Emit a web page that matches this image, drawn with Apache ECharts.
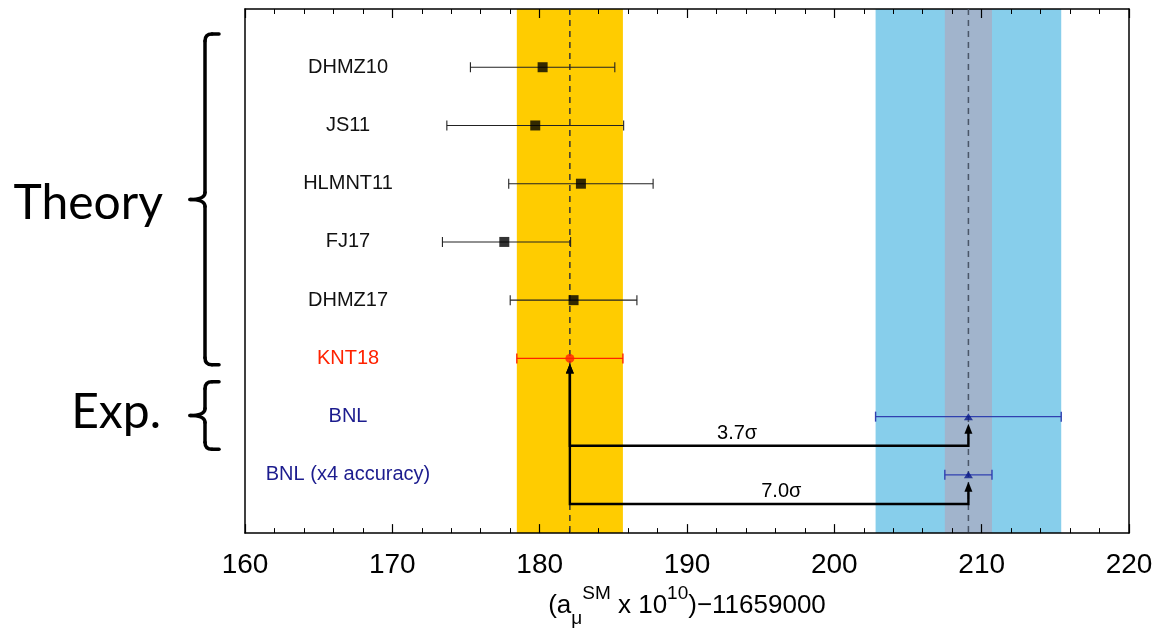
<!DOCTYPE html>
<html>
<head>
<meta charset="utf-8">
<script src="https://cdn.jsdelivr.net/npm/echarts@6/dist/echarts.min.js"></script>
<style>
html,body{margin:0;padding:0;background:#fff;}
#chart{width:1160px;height:633px;}
</style>
</head>
<body>
<div id="chart"></div>
<script>
// ---------------- data ----------------
const categories = ['DHMZ10', 'JS11', 'HLMNT11', 'FJ17', 'DHMZ17', 'KNT18', 'BNL', 'BNL (x4 accuracy)'];
const centralValues = [180.2, 179.7, 182.8, 177.6, 182.3, 182.05, 209.1, 209.1];
const errLow  = [4.9, 6.0, 4.9, 4.2, 4.3, 3.6, 6.3, 1.6];
const errHigh = [4.9, 6.0, 4.9, 4.5, 4.3, 3.6, 6.3, 1.6];
const xTicks = [160, 170, 180, 190, 200, 210, 220];
// bands: [row index whose value ± error defines the band]
const bandRows = [5, 6, 7];
// comparisons: theory row -> experiment row, with significance label
const compareFrom = [5, 5];
const compareTo = [6, 7];
const sigmaLabels = ['3.7σ', '7.0σ'];
const sigmaLabelX = [193.4, 196.4];
const groupLabels = ['Theory', 'Exp.'];

// ---------------- styles ----------------
const RED = '#ff2200';
const NAVY = '#1c1c8e';
const NAVY_BAR = '#3040b0';
function rowColor(i) { return i === 5 ? RED : (i >= 6 ? NAVY_BAR : '#222'); }
function labelColor(i) { return i === 5 ? RED : (i >= 6 ? NAVY : '#111'); }
const bandColors = ['#ffcc00', '#87ceeb', '#a1b4cc'];
const dashColors = ['#333333', '#4a5668', '#4a5668'];

const FONT = '"Liberation Sans", Arial, Helvetica, sans-serif';

// rows are 1-based positions on the y axis
const rowOf = i => i + 1;

const errData = categories.map((c, i) => [centralValues[i] - errLow[i], centralValues[i] + errHigh[i], rowOf(i), i]);
const bandData = bandRows.map((r, k) => [centralValues[r] - errLow[r], centralValues[r] + errHigh[r], k]);
const dashData = [[centralValues[5], 0], [centralValues[6], 1]];
const arrowData = compareFrom.map((f, k) => [centralValues[f], rowOf(f), centralValues[compareTo[k]], rowOf(compareTo[k]), rowOf(compareTo[k]) + 0.5, sigmaLabelX[k], k]);

const squareData = [0, 1, 2, 3, 4].map(i => [centralValues[i], rowOf(i)]);
const circleData = [[centralValues[5], rowOf(5)]];
const triData = [6, 7].map(i => [centralValues[i], rowOf(i)]);

const chart = echarts.init(document.getElementById('chart'), null, {renderer: 'canvas'});

function arrowHead(x, tipY, color) {
  return {type: 'polygon', shape: {points: [[x, tipY], [x - 4, tipY + 10], [x + 4, tipY + 10]]}, style: {fill: color}};
}

const xAxisCommon = {
  type: 'value', min: 160, max: 220, interval: 10,
  axisLine: {show: true, onZero: false, lineStyle: {color: '#000', width: 1.5}},
  axisTick: {show: true, inside: true, length: 9, lineStyle: {color: '#000', width: 1.2}},
  minorTick: {show: true, splitNumber: 5, length: 5, lineStyle: {color: '#000', width: 1}},
  splitLine: {show: false}
};

const option = {
  backgroundColor: '#fff',
  animation: false,
  grid: {left: 245, right: 31, top: 9, bottom: 97, show: false},
  xAxis: [Object.assign({}, xAxisCommon, {
    position: 'bottom',
    axisLabel: {
      show: true, margin: 18, fontSize: 28, color: '#000', fontFamily: FONT,
      formatter: v => (xTicks.indexOf(v) >= 0 ? String(v) : '')
    },
    name: '{p|(a}{sub|μ}{sup|SM}{p| x 10}{sup|10}{p|)−11659000}',
    nameLocation: 'middle', nameGap: 46,
    nameTextStyle: {
      fontFamily: FONT, color: '#000',
      rich: {
        p: {fontSize: 26, fontFamily: FONT, color: '#000', lineHeight: 44, verticalAlign: 'middle'},
        sup: {fontSize: 19, fontFamily: FONT, color: '#000', lineHeight: 44, verticalAlign: 'top'},
        sub: {fontSize: 19, fontFamily: FONT, color: '#000', lineHeight: 44, verticalAlign: 'bottom'}
      }
    }
  }), Object.assign({}, xAxisCommon, {
    position: 'top',
    axisLabel: {show: false}
  })],
  yAxis: [{
    type: 'value', position: 'left', min: 0, max: 9, interval: 1, inverse: true,
    axisLine: {show: true, onZero: false, lineStyle: {color: '#000', width: 1.5}},
    axisTick: {show: false},
    splitLine: {show: false},
    axisLabel: {
      show: true, inside: true, margin: 103, align: 'center', fontSize: 20, fontFamily: FONT,
      formatter: v => (v >= 1 && v <= categories.length ? categories[v - 1] : ''),
      color: (v) => (v >= 1 && v <= categories.length ? labelColor(v - 1) : '#000')
    }
  }, {
    type: 'value', position: 'right', min: 0, max: 9, inverse: true,
    axisLine: {show: true, onZero: false, lineStyle: {color: '#000', width: 1.5}},
    axisTick: {show: false}, splitLine: {show: false}, axisLabel: {show: false}
  }],
  series: [
    {
      type: 'custom', name: 'bands', z: 0, silent: true, clip: true,
      data: bandData,
      renderItem: (params, api) => {
        const p0 = api.coord([api.value(0), 0]);
        const p1 = api.coord([api.value(1), 9]);
        return {type: 'rect', shape: {x: p0[0], y: Math.min(p0[1], p1[1]), width: p1[0] - p0[0], height: Math.abs(p1[1] - p0[1])},
          style: {fill: bandColors[api.value(2)]}};
      }
    },
    {
      type: 'custom', name: 'dash', z: 1, silent: true,
      data: dashData,
      renderItem: (params, api) => {
        const p0 = api.coord([api.value(0), 0]);
        const p1 = api.coord([api.value(0), 9]);
        return {type: 'line', shape: {x1: p0[0], y1: p0[1], x2: p1[0], y2: p1[1]},
          style: {stroke: dashColors[api.value(1)], lineWidth: 1.5, lineDash: [6, 5]}};
      }
    },
    {
      type: 'custom', name: 'errors', z: 2, silent: true,
      data: errData,
      renderItem: (params, api) => {
        const a = api.coord([api.value(0), api.value(2)]);
        const b = api.coord([api.value(1), api.value(2)]);
        const col = rowColor(api.value(3));
        const lw = api.value(3) >= 5 ? 1.4 : 1.1;
        const h = 5;
        return {type: 'group', children: [
          {type: 'line', shape: {x1: a[0], y1: a[1], x2: b[0], y2: b[1]}, style: {stroke: col, lineWidth: lw}},
          {type: 'line', shape: {x1: a[0], y1: a[1] - h, x2: a[0], y2: a[1] + h}, style: {stroke: col, lineWidth: lw}},
          {type: 'line', shape: {x1: b[0], y1: b[1] - h, x2: b[0], y2: b[1] + h}, style: {stroke: col, lineWidth: lw}}
        ]};
      }
    },
    {
      type: 'custom', name: 'arrows', z: 3, silent: true,
      data: arrowData,
      renderItem: (params, api) => {
        const x1 = api.value(0), r1 = api.value(1), x2 = api.value(2), r2 = api.value(3), lev = api.value(4), lx = api.value(5);
        const pA = api.coord([x1, lev]);
        const pB = api.coord([x2, lev]);
        const tA = api.coord([x1, r1]);
        const tB = api.coord([x2, r2]);
        const tipA = tA[1] + 5, tipB = tB[1] + 7;
        const lab = api.coord([lx, lev]);
        return {type: 'group', children: [
          {type: 'polyline', shape: {points: [[pA[0], tipA + 8], [pA[0], pA[1]], [pB[0], pB[1]], [pB[0], tipB + 8]]},
            style: {stroke: '#000', lineWidth: 2.4, fill: null}},
          arrowHead(pA[0], tipA, '#000'),
          arrowHead(pB[0], tipB, '#000'),
          {type: 'text', style: {text: sigmaLabels[api.value(6)], x: lab[0], y: pA[1] - 2, textAlign: 'center', textVerticalAlign: 'bottom',
            font: '20px ' + FONT, fill: '#000'}}
        ]};
      }
    },
    {
      type: 'scatter', name: 'theory', z: 4, silent: true,
      data: squareData, symbol: 'rect', symbolSize: 10, itemStyle: {color: '#000'}
    },
    {
      type: 'scatter', name: 'KNT18', z: 4, silent: true,
      data: circleData, symbol: 'circle', symbolSize: 9, itemStyle: {color: RED}
    },
    {
      type: 'scatter', name: 'BNL', z: 4, silent: true,
      data: triData, symbol: 'triangle', symbolSize: [9, 7], itemStyle: {color: '#0a1a8a'}
    }
  ]
};
chart.setOption(option);

// ---------------- annotation braces (outside plot) ----------------
function braceParts(x0, x1, xn, yt, yb, ym) {
  const r = 7;
  const st = {stroke: '#000', lineWidth: 3.5, fill: null, lineCap: 'round'};
  const L = (a, b, c, d) => ({type: 'line', shape: {x1: a, y1: b, x2: c, y2: d}, style: st});
  const Q = (a, b, cx, cy, c, d) => ({type: 'bezierCurve', shape: {x1: a, y1: b, cpx1: cx, cpy1: cy, x2: c, y2: d}, style: st});
  return [
    L(x1, yt, x0 + r, yt),
    Q(x0 + r, yt, x0, yt, x0, yt + r),
    L(x0, yt + r, x0, ym - r),
    Q(x0, ym - r, x0, ym, xn, ym),
    Q(xn, ym, x0, ym, x0, ym + r),
    L(x0, ym + r, x0, yb - r),
    Q(x0, yb - r, x0, yb, x0 + r, yb),
    L(x0 + r, yb, x1, yb)
  ];
}
const yPix = v => chart.convertToPixel({yAxisIndex: 0}, v);
const thTop = yPix(0.43), thBot = yPix(6.11), exTop = yPix(6.4), exBot = yPix(7.56);
const thMid = (thTop + thBot) / 2, exMid = (exTop + exBot) / 2;
chart.setOption({
  graphic: [].concat(
    braceParts(205, 219, 190, thTop, thBot, thMid),
    braceParts(205, 219, 190, exTop, exBot, exMid),
    [
      {type: 'text', style: {text: groupLabels[0], x: 163, y: thMid + 4, textAlign: 'right', textVerticalAlign: 'middle', font: '48px Lato, "Open Sans", sans-serif', fill: '#000'}},
      {type: 'text', style: {text: groupLabels[1], x: 161, y: exMid - 3, textAlign: 'right', textVerticalAlign: 'middle', font: '48px Lato, "Open Sans", sans-serif', fill: '#000'}}
    ]
  )
});
</script>
</body>
</html>
